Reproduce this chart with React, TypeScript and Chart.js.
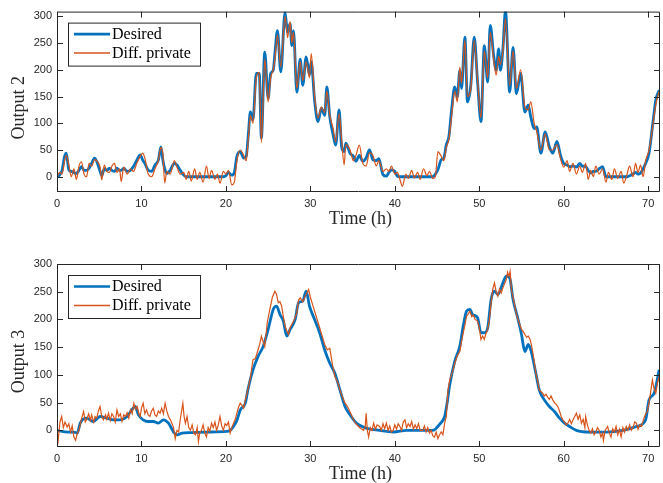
import React, { useEffect, useRef } from 'react';
import { Chart, registerables } from 'chart.js';

Chart.register(...registerables);

const BLUE = '#0072BD';
const ORANGE = '#D95319';
const INK = '#262626';

const xTicks = [0, 10, 20, 30, 40, 50, 60, 70];
const yTicks = [0, 50, 100, 150, 200, 250, 300];

// ---------- Output 2 ----------
const hours2 = [
  0, 0.3, 0.6, 0.9, 1.1, 1.4, 1.7, 2.0, 2.3, 2.6,
  2.9, 3.2, 3.5, 3.8, 4.1, 4.45, 4.8, 5.1, 5.3, 5.6,
  5.9, 6.2, 6.5, 6.8, 7.1, 7.4, 7.6, 7.9, 8.3, 8.7,
  9.05, 9.45, 9.85, 10.15, 10.4, 10.8, 11.2, 11.6, 12.0, 12.3,
  12.55, 12.75, 13.0, 13.4, 13.9, 14.2, 14.6, 15.0, 15.3, 15.6,
  15.9, 16.3, 16.6, 16.9, 17.3, 17.7, 18.0, 18.3, 18.7, 19.0,
  19.3, 19.7, 20.0, 20.3, 20.7, 21.0, 21.3, 21.7, 22.1, 22.4,
  22.65, 22.9, 23.2, 23.6, 23.95, 24.2, 24.6, 25.0, 25.3, 25.6,
  25.8, 26.1, 26.5, 27.0, 27.3, 27.6, 27.8, 28.0, 28.4, 28.8,
  29.1, 29.5, 29.9, 30.1, 30.5, 30.9, 31.3, 31.7, 31.95, 32.3,
  32.7, 33.0, 33.4, 33.7, 34.0, 34.2, 34.7, 35.1, 35.4, 35.8,
  36.2, 36.6, 37.0, 37.4, 37.8, 38.1, 38.6, 39.0, 39.3, 39.6,
  40.0, 40.3, 40.6, 40.9, 41.3, 41.6, 42.0, 42.3, 42.7, 43.0,
  43.4, 43.8, 44.1, 44.5, 44.8, 45.1, 45.5, 45.8, 46.1, 46.4,
  46.7, 47.1, 47.4, 47.7, 47.9, 48.3, 48.6, 49.0, 49.4, 49.8,
  50.2, 50.6, 51.0, 51.3, 51.7, 52.0, 52.3, 52.5, 52.8, 53.1,
  53.6, 54.0, 54.4, 54.9, 55.4, 55.8, 56.1, 56.5, 56.8, 57.3,
  57.8, 58.3, 58.7, 59.2, 59.6, 60.0, 60.4, 60.7, 61.1, 61.5,
  61.9, 62.2, 62.6, 62.9, 63.2, 63.5, 63.8, 64.2, 64.6, 65.0,
  65.3, 65.7, 66.0, 66.4, 66.8, 67.1, 67.5, 67.8, 68.2, 68.5,
  68.8, 69.1, 69.4, 69.7, 70.1, 70.5, 70.9, 71.3,
];
const desired2 = [
  0, 3, 12, 38, 44, 13, 10, 8, 6, 12,
  19, 12, 12, 16, 25, 35, 25, 10, 2, 15,
  12, 16, 12, 10, 16, 12, 12, 16, 10, 12,
  19, 31, 41, 31, 25, 12, 10, 22, 31, 56,
  30, 15, 6, 12, 25, 22, 12, 3, 0, 0,
  0, 0, 0, 0, 0, 0, 0, 0, 0, 0,
  0, 0, 2, 8, 3, 8, 38, 47, 35, 38,
  78, 121, 106, 193, 193, 72, 233, 146, 193, 199,
  230, 273, 196, 307, 270, 286, 245, 273, 158, 220,
  171, 224, 190, 215, 143, 103, 128, 115, 168, 112,
  78, 59, 125, 56, 47, 63, 44, 38, 29, 40,
  29, 35, 50, 32, 30, 34, 4, 1, 8, 13,
  10, 1, 0, 0, 0, 0, 0, 0, 0, 0,
  0, 0, 0, 0, 5, 13, 32, 35, 60, 75,
  121, 168, 149, 199, 165, 261, 140, 171, 261, 177,
  103, 245, 177, 283, 227, 199, 239, 199, 239, 310,
  158, 242, 155, 193, 121, 134, 112, 90, 93, 44,
  84, 56, 44, 66, 41, 25, 22, 19, 20, 18,
  25, 20, 19, 12, 7, 10, 10, 15, 19, 0,
  0, 0, 0, 0, 0, 0, 0, 2, 5, 8,
  5, 7, 15, 25, 44, 93, 143, 162,
];
const private2 = [
  0, 8, 5, 30, 40, 22, 0, 15, -5, 20,
  28, 5, 0, 25, 20, 32, 28, 18, -6, 22,
  10, 8, 20, 25, 8, 15, -9, 18, 5, 15,
  10, 25, 38, 44, 35, 5, 0, 15, 30, 55,
  40, -12, 10, 5, 30, 18, 5, 8, -5, 10,
  -8, 15, -5, 8, -10, 20, -3, 12, -5, 5,
  -12, 10, 5, 12, -15, -10, 30, 50, 40, 30,
  70, 115, 100, 185, 195, 64, 220, 140, 185, 200,
  220, 265, 205, 300, 260, 290, 250, 270, 165, 215,
  180, 215, 185, 230, 150, 110, 130, 120, 160, 115,
  90, 65, 118, 70, 22, 60, 50, 30, 40, 59,
  25, 20, 45, 40, 20, 30, 10, 15, 10, 20,
  5, 8, -5, -18, 5, -3, 12, -2, 8, -5,
  15, 2, 10, -3, 0, 47, 38, 30, 55, 70,
  110, 160, 140, 205, 175, 255, 150, 165, 255, 180,
  110, 235, 185, 270, 220, 190, 225, 210, 235, 295,
  170, 235, 165, 200, 130, 125, 140, 100, 85, 50,
  80, 50, 50, 60, 35, 18, 30, 10, 25, 5,
  20, 8, 25, -5, 12, 0, 20, 5, 15, -10,
  8, -5, 15, -3, 10, -12, 5, 20, 0, 25,
  8, 22, 0, 30, 50, 90, 135, 160,
];

// ---------- Output 3 ----------
const hours3Desired = [
  0, 0.6, 1.2, 2.0, 2.4, 2.75, 3.5, 4.3, 5.1, 5.9,
  6.7, 7.5, 8.3, 8.85, 9.25, 9.65, 10.2, 10.8, 11.4, 12.0,
  12.6, 13.2, 13.8, 14.2, 14.8, 15.8, 17.7, 20.1, 20.5, 20.9,
  21.3, 21.7, 22.3, 22.6, 23.2, 23.8, 24.4, 25.0, 25.6, 26.0,
  26.4, 26.8, 27.2, 27.6, 28.2, 28.6, 29.1, 29.5, 29.9, 30.5,
  31.1, 31.7, 32.3, 32.9, 33.5, 34.1, 34.7, 35.45, 36.6, 38.2,
  39.8, 41.4, 44.5, 45.3, 45.9, 46.2, 46.5, 47.1, 47.7, 48.1,
  48.5, 48.9, 49.2, 49.8, 50.2, 50.6, 51.0, 51.4, 51.8, 52.2,
  52.8, 53.2, 53.6, 54.0, 54.6, 55.0, 55.4, 55.8, 56.1, 56.7,
  57.1, 57.7, 58.3, 58.9, 59.5, 60.1, 60.7, 61.5, 63.0, 65.0,
  67.0, 68.6, 69.7, 70.1, 70.7, 71.3,
];
const desired3 = [
  0, -2, -3, -3, -5, 13, 22, 16, 25, 22,
  19, 19, 25, 37, 43, 28, 19, 16, 16, 13,
  19, 13, -3, -8, -5, -4, -3, -2, 0, 7,
  18, 37, 49, 73, 109, 133, 151, 182, 218, 224,
  209, 197, 170, 182, 200, 230, 233, 251, 224, 200,
  176, 145, 121, 103, 73, 43, 28, 13, 4, 0,
  -3, 0, 0, 11, 25, 50, 82, 125, 152, 188,
  215, 218, 209, 203, 176, 176, 185, 236, 251, 245,
  266, 278, 275, 236, 200, 173, 142, 155, 145, 103,
  73, 55, 43, 34, 22, 13, 7, 0, -3, -3,
  0, 7, 19, 55, 67, 109,
];
const hours3Private = [
  0.0, 0.15, 0.35, 0.55, 0.75, 0.95, 1.2, 1.4, 1.6, 1.8,
  2.0, 2.2, 2.4, 2.6, 2.85, 3.15, 3.35, 3.5, 3.75, 3.95,
  4.1, 4.35, 4.5, 4.7, 4.9, 5.1, 5.3, 5.5, 5.75, 5.9,
  6.1, 6.3, 6.5, 6.7, 6.9, 7.1, 7.3, 7.5, 7.7, 7.9,
  8.1, 8.3, 8.5, 8.7, 8.9, 9.1, 9.3, 9.5, 9.7, 9.85,
  10.0, 10.2, 10.4, 10.6, 10.8, 11.0, 11.2, 11.4, 11.6, 11.8,
  12.0, 12.2, 12.4, 12.6, 12.8, 13.0, 13.2, 13.4, 13.6, 13.8,
  14.0, 14.2, 14.4, 14.6, 14.9, 15.05, 15.2, 15.4, 15.6, 15.8,
  16.0, 16.2, 16.4, 16.6, 16.75, 16.9, 17.1, 17.3, 17.5, 17.7,
  17.9, 18.1, 18.3, 18.5, 18.7, 18.9, 19.1, 19.3, 19.5, 19.7,
  19.9, 20.1, 20.3, 20.5, 20.7, 20.9, 21.1, 21.3, 21.5, 21.7,
  21.9, 22.1, 22.3, 22.6, 22.9, 23.2, 23.5, 23.8, 24.0, 24.2,
  24.4, 24.6, 24.9, 25.2, 25.5, 25.8, 26.0, 26.2, 26.4, 26.6,
  26.8, 27.0, 27.2, 27.4, 27.6, 27.8, 28.1, 28.4, 28.6, 28.8,
  29.1, 29.4, 29.6, 29.8, 30.0, 30.2, 30.5, 30.8, 31.1, 31.4,
  31.7, 32.0, 32.3, 32.6, 32.9, 33.2, 33.5, 33.8, 34.1, 34.3,
  34.5, 34.8, 35.1, 35.4, 35.7, 36.0, 36.3, 36.5, 36.6, 36.75,
  36.9, 37.1, 37.3, 37.5, 37.7, 37.9, 38.2, 38.4, 38.6, 38.8,
  39.0, 39.2, 39.4, 39.6, 39.8, 40.0, 40.2, 40.4, 40.6, 40.8,
  41.0, 41.2, 41.4, 41.6, 41.8, 42.0, 42.2, 42.4, 42.6, 42.8,
  43.0, 43.3, 43.5, 43.7, 43.9, 44.1, 44.3, 44.5, 44.7, 44.9,
  45.1, 45.3, 45.5, 45.7, 45.9, 46.1, 46.3, 46.5, 46.7, 46.9,
  47.1, 47.4, 47.7, 47.9, 48.1, 48.3, 48.5, 48.7, 48.9, 49.1,
  49.3, 49.5, 49.8, 50.0, 50.2, 50.4, 50.6, 50.8, 51.0, 51.2,
  51.4, 51.6, 51.8, 52.0, 52.2, 52.4, 52.6, 52.8, 53.0, 53.2,
  53.35, 53.5, 53.65, 53.8, 54.0, 54.2, 54.4, 54.7, 55.0, 55.2,
  55.4, 55.6, 55.8, 56.0, 56.2, 56.4, 56.7, 56.9, 57.1, 57.3,
  57.5, 57.7, 57.9, 58.1, 58.3, 58.5, 58.7, 58.9, 59.1, 59.3,
  59.5, 59.7, 59.9, 60.1, 60.3, 60.5, 60.7, 60.9, 61.1, 61.3,
  61.5, 61.7, 61.9, 62.1, 62.3, 62.5, 62.6, 62.8, 63.0, 63.2,
  63.4, 63.6, 63.8, 64.0, 64.2, 64.4, 64.6, 64.7, 64.9, 65.2,
  65.4, 65.6, 65.8, 66.0, 66.2, 66.4, 66.6, 66.8, 67.0, 67.2,
  67.4, 67.6, 67.8, 68.0, 68.2, 68.4, 68.6, 68.8, 69.0, 69.2,
  69.5, 69.7, 69.9, 70.1, 70.3, 70.5, 70.7, 70.9, 71.1, 71.3,
];
const private3 = [
  0, -17, 15, 25, 5, 15, 6, 12, -3, 8,
  -12, -18, -5, 0, 18, 34, 15, 19, 30, 18,
  28, 15, 25, 22, 35, 43, 25, 19, 28, 20,
  31, 18, 30, 25, 15, 37, 25, 30, 16, 28,
  25, 32, 22, 37, 30, 49, 38, 43, 30, 25,
  40, 49, 30, 37, 28, 25, 35, 40, 28, 25,
  35, 31, 40, 30, 49, 35, 25, 20, 13, 5,
  -15, 0, -3, 20, 49, 25, 13, 25, 5, 0,
  10, -5, -8, 5, -20, -5, 0, 10, -5, -12,
  5, -2, 13, 5, 15, 0, 10, 25, 8, 0,
  12, 9, 15, -5, 5, 13, 20, 31, 42, 49,
  45, 40, 55, 73, 95, 127, 130, 145, 155, 170,
  160, 151, 195, 218, 240, 251, 245, 230, 232, 224,
  205, 188, 180, 173, 185, 191, 200, 212, 235, 239,
  232, 242, 248, 254, 240, 230, 215, 200, 185, 170,
  155, 145, 148, 120, 97, 88, 73, 60, 49, 45,
  40, 30, 19, 12, 7, 3, 0, 8, 31, 0,
  -12, 5, 0, 13, 2, 10, 7, 0, 12, 3,
  13, 0, 8, -3, 0, 10, 2, 12, 7, 0,
  15, 19, 5, 12, 7, 16, 2, 10, 3, 12,
  0, 0, 8, -3, 5, -5, 0, -10, -12, -3,
  -15, -8, -3, -8, 13, 25, 73, 91, 100, 109,
  121, 135, 142, 160, 176, 190, 206, 210, 215, 205,
  208, 200, 197, 185, 164, 170, 164, 175, 182, 200,
  230, 255, 266, 250, 242, 255, 248, 257, 265, 272,
  285, 278, 287, 254, 240, 225, 209, 195, 182, 178,
  173, 168, 170, 165, 152, 135, 103, 90, 73, 70,
  67, 62, 65, 60, 56, 62, 55, 50, 47, 43,
  35, 25, 19, 15, 10, 13, 20, 12, 19, 25,
  31, 20, 28, 13, 20, 5, 25, 10, 0, -5,
  3, -8, -3, 5, 0, -12, -5, -18, 0, 7,
  -5, -12, 3, -3, 7, -8, 2, -12, 5, -3,
  7, 0, 10, 0, 5, 15, 13, 2, 10, 7,
  22, 30, 34, 50, 70, 91, 75, 67, 85, 97,
];

const X_MAX = 71.4;
const SERIF = '"Liberation Serif", "Times New Roman", serif';
const SANS = '"Liberation Sans", Arial, Helvetica, sans-serif';

type PanelProps = {
  hoursDesired: number[];
  desired: number[];
  hoursPrivate: number[];
  privateVals: number[];
  smoothPrivate: boolean;
  yMin: number;
  yMax: number;
  yLabel: string;
  height: number;
  padTop: number;
  xAxisHeight: number;
};

function Panel(p: PanelProps) {
  const ref = useRef<HTMLCanvasElement | null>(null);

  useEffect(() => {
    const canvas = ref.current;
    if (!canvas) return;
    const pts = (xs: number[], ys: number[]) => xs.map((x, i) => ({ x, y: ys[i] }));

    const decor = {
      id: 'decor',
      afterDatasetsDraw(chart: any) {
        const { ctx, chartArea: a, scales } = chart;
        const sx = scales.x;
        const sy = scales.y;
        ctx.save();
        ctx.strokeStyle = INK;
        ctx.lineWidth = 1;
        ctx.beginPath();
        ctx.rect(a.left + 0.5, a.top + 0.5, a.right - a.left - 1, a.bottom - a.top - 1);
        ctx.stroke();
        ctx.beginPath();
        xTicks.forEach((v) => {
          const px = Math.round(sx.getPixelForValue(v)) + 0.5;
          ctx.moveTo(px, a.bottom);
          ctx.lineTo(px, a.bottom - 6);
          ctx.moveTo(px, a.top);
          ctx.lineTo(px, a.top + 6);
        });
        yTicks.forEach((v) => {
          const py = Math.round(sy.getPixelForValue(v)) + 0.5;
          ctx.moveTo(a.left, py);
          ctx.lineTo(a.left + 6, py);
          ctx.moveTo(a.right, py);
          ctx.lineTo(a.right - 6, py);
        });
        ctx.stroke();

        // legend box
        const bx = 68;
        const by = a.top + 11;
        const bw = 132;
        const bh = 43;
        ctx.fillStyle = '#ffffff';
        ctx.fillRect(bx, by, bw, bh);
        ctx.strokeStyle = INK;
        ctx.strokeRect(bx + 0.5, by + 0.5, bw, bh);
        const r1 = by + 11.5;
        const r2 = by + 30.5;
        ctx.lineCap = 'butt';
        ctx.strokeStyle = BLUE;
        ctx.lineWidth = 2.6;
        ctx.beginPath();
        ctx.moveTo(74, r1);
        ctx.lineTo(110, r1);
        ctx.stroke();
        ctx.strokeStyle = ORANGE;
        ctx.lineWidth = 1.5;
        ctx.beginPath();
        ctx.moveTo(74, r2);
        ctx.lineTo(110, r2);
        ctx.stroke();
        ctx.fillStyle = '#000000';
        ctx.font = '16px ' + SERIF;
        ctx.textAlign = 'left';
        ctx.textBaseline = 'middle';
        ctx.fillText('Desired', 112, r1 + 0.5);
        ctx.fillText('Diff. private', 112, r2 + 0.5);

        // axis titles
        ctx.fillStyle = INK;
        ctx.font = '18px ' + SERIF;
        ctx.textAlign = 'center';
        ctx.textBaseline = 'middle';
        ctx.fillText('Time (h)', (a.left + a.right) / 2 + 2, a.bottom + 27);
        ctx.translate(19, (a.top + a.bottom) / 2 + 6);
        ctx.rotate(-Math.PI / 2);
        ctx.fillText(p.yLabel, 0, 0);
        ctx.restore();
      },
    };

    const chart = new Chart(canvas, {
      type: 'line',
      data: {
        datasets: [
          {
            label: 'Diff. private',
            data: pts(p.hoursPrivate, p.privateVals),
            borderColor: ORANGE,
            borderWidth: 1.2,
            pointRadius: 0,
            cubicInterpolationMode: p.smoothPrivate ? 'monotone' : 'default',
            tension: p.smoothPrivate ? 0.4 : 0,
            order: 1,
          },
          {
            label: 'Desired',
            data: pts(p.hoursDesired, p.desired),
            borderColor: BLUE,
            borderWidth: 2.8,
            pointRadius: 0,
            cubicInterpolationMode: 'monotone',
            tension: 0.4,
            order: 2,
          },
        ],
      },
      options: {
        animation: false,
        responsive: false,
        maintainAspectRatio: false,
        parsing: false as any,
        normalized: true,
        layout: { padding: { top: p.padTop, right: 3, left: 0, bottom: 0 } },
        plugins: { legend: { display: false }, tooltip: { enabled: false }, title: { display: false } },
        scales: {
          x: {
            type: 'linear',
            min: 0,
            max: X_MAX,
            grid: { display: false, drawTicks: false },
            border: { display: false },
            ticks: {
              stepSize: 10,
              padding: 5,
              color: INK,
              font: { family: SANS, size: 11 },
              maxRotation: 0,
            },
            afterBuildTicks: (s: any) => {
              s.ticks = xTicks.map((v) => ({ value: v }));
            },
            afterFit: (s: any) => {
              s.height = p.xAxisHeight;
            },
          },
          y: {
            type: 'linear',
            min: p.yMin,
            max: p.yMax,
            grid: { display: false, drawTicks: false },
            border: { display: false },
            ticks: {
              padding: 5,
              color: INK,
              font: { family: SANS, size: 11 },
            },
            afterBuildTicks: (s: any) => {
              s.ticks = yTicks.map((v) => ({ value: v }));
            },
            afterFit: (s: any) => {
              s.width = 57;
            },
          },
        },
      },
      plugins: [decor],
    });
    return () => chart.destroy();
  }, []);

  return <canvas ref={ref} width={663} height={p.height} style={{ display: 'block' }} />;
}

export default function App() {
  useEffect(() => {
    document.body.style.margin = '0';
  }, []);
  return (
    <div style={{ position: 'fixed', left: 0, top: 0, width: 663, height: 483, background: '#ffffff' }}>
      <div style={{ position: 'absolute', left: 0, top: 0 }}>
        <Panel
          hoursDesired={hours2}
          desired={desired2}
          hoursPrivate={hours2}
          privateVals={private2}
          smoothPrivate={true}
          yMin={-28.5}
          yMax={308.7}
          yLabel="Output 2"
          height={241}
          padTop={11}
          xAxisHeight={49}
        />
      </div>
      <div style={{ position: 'absolute', left: 0, top: 241 }}>
        <Panel
          hoursDesired={hours3Desired}
          desired={desired3}
          hoursPrivate={hours3Private}
          privateVals={private3}
          smoothPrivate={false}
          yMin={-30}
          yMax={300}
          yLabel="Output 3"
          height={242}
          padTop={23}
          xAxisHeight={36}
        />
      </div>
    </div>
  );
}
